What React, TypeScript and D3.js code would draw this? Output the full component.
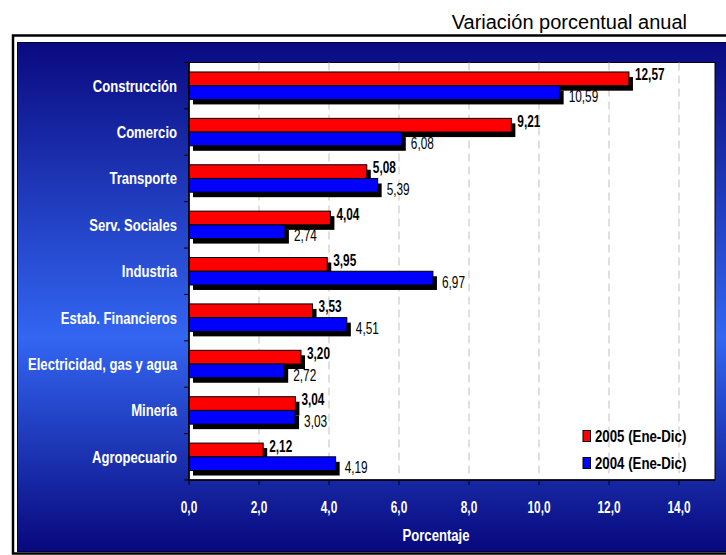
import React from 'react';
import * as d3 from 'd3';

const categories = [
  'Construcción',
  'Comercio',
  'Transporte',
  'Serv. Sociales',
  'Industria',
  'Estab. Financieros',
  'Electricidad, gas y agua',
  'Minería',
  'Agropecuario',
];
const values2005 = [12.57, 9.21, 5.08, 4.04, 3.95, 3.53, 3.2, 3.04, 2.12];
const values2004 = [10.59, 6.08, 5.39, 2.74, 6.97, 4.51, 2.72, 3.03, 4.19];
const seriesNames = ['2005 (Ene-Dic)', '2004 (Ene-Dic)'];
const xTicks = [0, 2, 4, 6, 8, 10, 12, 14];
const titleText = 'Variación porcentual anual';
const xAxisTitle = 'Porcentaje';

const W = 726;
const H = 555;
const FONT = "'Liberation Sans', Arial, sans-serif";

const locale = d3.formatLocale({ decimal: ',', thousands: '.', grouping: [3], currency: ['', ''] });
const f2 = locale.format('.2f');
const f1 = locale.format('.1f');

type NTProps = {
  x: number;
  y: number;
  size: number;
  bold?: boolean;
  fill?: string;
  anchor?: 'start' | 'middle' | 'end';
  sx?: number;
  children: React.ReactNode;
};

function NText({ x, y, size, bold, fill = '#000', anchor = 'start', sx = 0.86, children }: NTProps) {
  return (
    <text
      transform={`translate(${x},${y}) scale(${sx},1)`}
      dy="0.35em"
      textAnchor={anchor}
      fontFamily={FONT}
      fontWeight={bold ? 'bold' : 'normal'}
      fontSize={size}
      fill={fill}
    >
      {children}
    </text>
  );
}

export default function App() {
  const plot = { left: 189, right: 715, top: 62.5, bottom: 480 };
  const x = d3.scaleLinear().domain([0, 15]).range([plot.left, plot.left + 525]);
  const y = d3.scaleBand<string>().domain(categories).range([plot.top, plot.bottom]).paddingInner(0).paddingOuter(0);
  const sub = d3.scaleBand<string>().domain(['2005', '2004']).range([0, y.bandwidth()]).paddingInner(0).paddingOuter(0.69);
  const bh = sub.bandwidth();
  const colors: Record<string, string> = { '2005': '#ff0000', '2004': '#0000ff' };
  const series = [
    { key: '2005', values: values2005 },
    { key: '2004', values: values2004 },
  ];
  const sdx = 4;
  const sdy = 5;

  return (
    <svg width={W} height={H} style={{ position: 'absolute', left: 0, top: 0 }} xmlns="http://www.w3.org/2000/svg">
      <defs>
        <linearGradient id="bg" x1="0" y1="0" x2="0" y2="1">
          <stop offset="0" stopColor="#0a0a80" />
          <stop offset="0.58" stopColor="#3366f2" />
          <stop offset="1" stopColor="#08087c" />
        </linearGradient>
      </defs>
      <rect x={0} y={0} width={W} height={H} fill="#ffffff" />
      <text x={687} y={29} textAnchor="end" fontFamily={FONT} fontSize={20} fill="#000">
        {titleText}
      </text>
      {/* outer frame */}
      <rect x={13} y={35.5} width={W + 20} height={H - 37} fill="#fff" stroke="#000" strokeWidth={2.5} />
      {/* blue panel */}
      <rect x={17.5} y={42.5} width={W} height={H - 46} fill="url(#bg)" stroke="#000040" strokeWidth={1} />
      {/* plot area */}
      <rect x={plot.left} y={plot.top} width={plot.right - plot.left} height={plot.bottom - plot.top} fill="#fff" stroke="#000" strokeWidth={1} />
      {/* gridlines */}
      {xTicks.filter((t) => t > 0).map((t) => (
        <line key={'g' + t} x1={x(t)} x2={x(t)} y1={plot.top} y2={plot.bottom} stroke="#c0c0c0" strokeWidth={1} strokeDasharray="8,5" />
      ))}
      {/* shadows */}
      {series.map((s) =>
        categories.map((c, i) => (
          <rect key={'s' + s.key + i} x={x(0) + sdx} y={(y(c) as number) + (sub(s.key) as number) + sdy} width={x(s.values[i]) - x(0)} height={bh} fill="#000" />
        ))
      )}
      {/* bars */}
      {series.map((s) =>
        categories.map((c, i) => (
          <rect key={'b' + s.key + i} x={x(0)} y={(y(c) as number) + (sub(s.key) as number)} width={x(s.values[i]) - x(0)} height={bh} fill={colors[s.key]} stroke="#000" strokeWidth={1} />
        ))
      )}
      {/* value labels */}
      {categories.map((c, i) => {
        const yr = (y(c) as number) + (sub('2005') as number) + bh / 2;
        const yb = (y(c) as number) + (sub('2004') as number) + bh / 2;
        return (
          <g key={'l' + i}>
            <NText x={x(values2005[i]) + 6} y={yr - 4} size={16} bold sx={0.74}>
              {f2(values2005[i])}
            </NText>
            <NText x={x(values2004[i]) + 9} y={yb + 4} size={16} sx={0.74}>
              {f2(values2004[i])}
            </NText>
          </g>
        );
      })}
      {/* axes */}
      <line x1={plot.left} x2={plot.left} y1={plot.top} y2={plot.bottom} stroke="#000" strokeWidth={1.5} />
      <line x1={plot.left} x2={plot.right} y1={plot.bottom} y2={plot.bottom} stroke="#000" strokeWidth={1.5} />
      {categories.map((c) => (
        <line key={'yt' + c} x1={plot.left - 5} x2={plot.left} y1={y(c) as number} y2={y(c) as number} stroke="#000" strokeWidth={1} />
      ))}
      <line x1={plot.left - 5} x2={plot.left} y1={plot.bottom} y2={plot.bottom} stroke="#000" strokeWidth={1} />
      {xTicks.map((t) => (
        <g key={'xt' + t}>
          <line x1={x(t)} x2={x(t)} y1={plot.bottom} y2={plot.bottom + 5} stroke="#000" strokeWidth={1} />
          <NText x={x(t)} y={507} size={16.5} bold fill="#fff" anchor="middle" sx={0.72}>
            {f1(t)}
          </NText>
        </g>
      ))}
      {categories.map((c) => (
        <NText key={'cl' + c} x={177} y={(y(c) as number) + y.bandwidth() / 2} size={17} bold fill="#fff" anchor="end" sx={0.77}>
          {c}
        </NText>
      ))}
      <NText x={436} y={535} size={17} bold fill="#fff" anchor="middle" sx={0.77}>
        {xAxisTitle}
      </NText>
      {/* legend */}
      {series.map((s, k) => (
        <g key={'lg' + s.key}>
          <rect x={583} y={430.5 + k * 27} width={7.5} height={11} fill={colors[s.key]} stroke="#000" strokeWidth={1} />
          <NText x={595} y={436 + k * 27} size={17} bold sx={0.78}>
            {seriesNames[k]}
          </NText>
        </g>
      ))}
    </svg>
  );
}
